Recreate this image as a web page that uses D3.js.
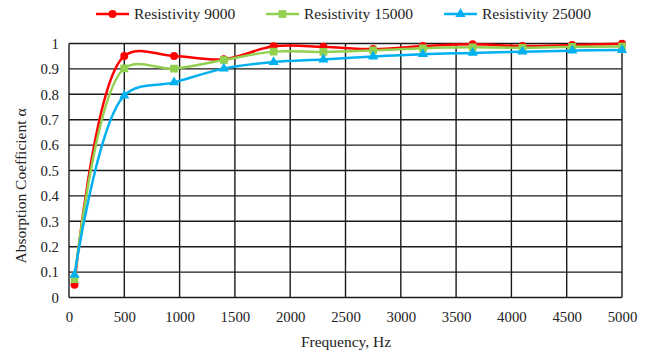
<!DOCTYPE html>
<html>
<head>
<meta charset="utf-8">
<script src="https://cdn.jsdelivr.net/npm/d3@7"></script>
<style>
  html, body { margin: 0; padding: 0; background: #fff; }
  svg { display: block; }
</style>
</head>
<body>
<svg id="chart" width="651" height="354"></svg>
<script>
// Measured absorption coefficient vs. frequency for three flow resistivities
const frequencies = [50, 500, 950, 1400, 1850, 2300, 2750, 3200, 3650, 4100, 4550, 5000];
const resistivity9000  = [0.05, 0.951, 0.951, 0.938, 0.989, 0.987, 0.978, 0.990, 0.997, 0.990, 0.994, 0.999];
const resistivity15000 = [0.072, 0.902, 0.901, 0.935, 0.968, 0.967, 0.973, 0.981, 0.985, 0.983, 0.987, 0.988];
const resistivity25000 = [0.089, 0.795, 0.847, 0.901, 0.927, 0.937, 0.949, 0.958, 0.963, 0.968, 0.972, 0.974];
const seriesNames = ["Resistivity 9000", "Resistivity 15000", "Resistivity 25000"];
const xTicks = [0, 500, 1000, 1500, 2000, 2500, 3000, 3500, 4000, 4500, 5000];
const yTicks = [0, 0.1, 0.2, 0.3, 0.4, 0.5, 0.6, 0.7, 0.8, 0.9, 1];

const series = [
  { name: seriesNames[0], values: resistivity9000,  color: "#ff0000", symbol: d3.symbolCircle,   size: 50 },
  { name: seriesNames[1], values: resistivity15000, color: "#92d050", symbol: d3.symbolSquare,   size: 60 },
  { name: seriesNames[2], values: resistivity25000, color: "#00b0f0", symbol: d3.symbolTriangle, size: 45 }
];

const FONT = "'Liberation Serif'";
const TEXT_COLOR = "#222";
const svg = d3.select("#chart");
const margin = { left: 69, right: 29, top: 43.5, bottom: 56.5 };
const W = 651, H = 354;

const x = d3.scaleLinear().domain([0, 5000]).range([margin.left, W - margin.right]);
const y = d3.scaleLinear().domain([0, 1]).range([H - margin.bottom, margin.top]);

function styleText(sel, size) {
  sel.style("font-family", FONT).style("font-size", size + "px").style("fill", TEXT_COLOR);
}

// Grid
const grid = svg.append("g").attr("stroke", "#1a1a1a").attr("stroke-width", 1.4);
grid.selectAll("line.v").data(xTicks).join("line")
  .attr("x1", d => x(d)).attr("x2", d => x(d))
  .attr("y1", y(0)).attr("y2", y(1));
grid.selectAll("line.h").data(yTicks).join("line")
  .attr("x1", x(0)).attr("x2", x(5000))
  .attr("y1", d => y(d)).attr("y2", d => y(d));

// Axes (labels only; grid draws the lines)
const xAxis = svg.append("g").attr("transform", `translate(0,${y(0)})`)
  .call(d3.axisBottom(x).tickValues(xTicks).tickSize(0).tickPadding(14).tickFormat(d3.format("d")));
xAxis.select(".domain").remove();
styleText(xAxis.selectAll("text"), 14.8);

const yAxis = svg.append("g").attr("transform", `translate(${x(0)},0)`)
  .call(d3.axisLeft(y).tickValues(yTicks).tickSize(0).tickPadding(10).tickFormat(d => String(+d.toFixed(1))));
yAxis.select(".domain").remove();
styleText(yAxis.selectAll("text"), 14.8);

// Axis titles
styleText(svg.append("text").attr("x", 346).attr("y", 347).attr("text-anchor", "middle")
  .text("Frequency, Hz"), 15.5);
styleText(svg.append("text").attr("transform", "translate(25.5,186) rotate(-90)").attr("text-anchor", "middle")
  .text("Absorption Coefficient α"), 15.5);

// Series lines and markers
const line = d3.line().x((d, i) => x(frequencies[i])).y(d => y(d)).curve(d3.curveCatmullRom.alpha(0.5));
series.forEach(s => {
  svg.append("path").datum(s.values)
    .attr("fill", "none").attr("stroke", s.color).attr("stroke-width", 2.5)
    .attr("d", line);
  svg.append("g").selectAll("path").data(s.values).join("path")
    .attr("transform", (d, i) => `translate(${x(frequencies[i])},${y(d)})`)
    .attr("d", d3.symbol().type(s.symbol).size(s.size))
    .attr("fill", s.color);
});

// Legend
const legendX = [96, 266, 444];
series.forEach((s, i) => {
  const g = svg.append("g").attr("transform", `translate(${legendX[i]},14)`);
  g.append("line").attr("x1", 0).attr("x2", 33).attr("y1", 0).attr("y2", 0)
    .attr("stroke", s.color).attr("stroke-width", 2.5);
  g.append("path").attr("transform", "translate(16.5,0)")
    .attr("d", d3.symbol().type(s.symbol).size(s.size)).attr("fill", s.color);
  styleText(g.append("text").attr("x", 38).attr("y", 5).text(s.name), 15.5);
});
</script>
</body>
</html>
